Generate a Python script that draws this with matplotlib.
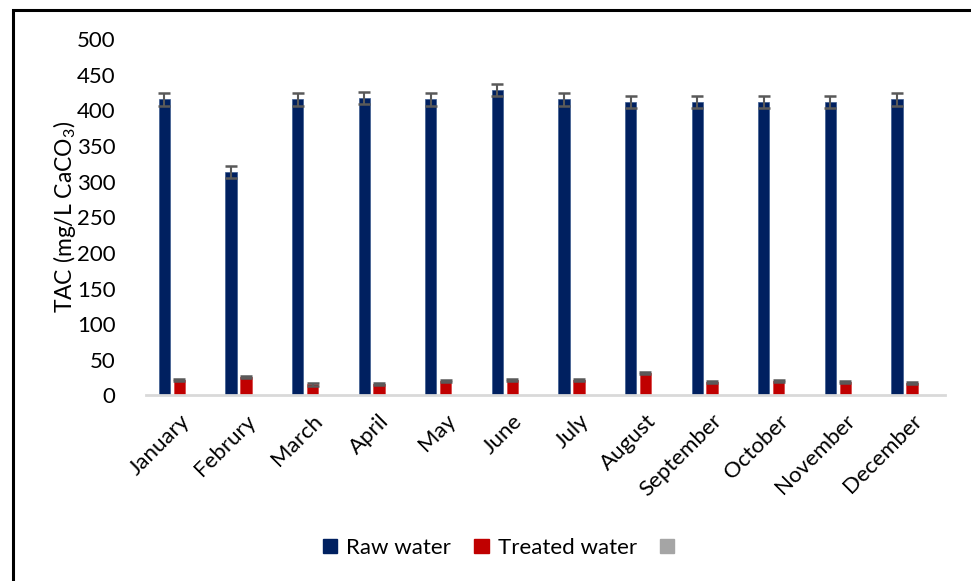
import matplotlib
matplotlib.use("Agg")
import matplotlib.pyplot as plt
import numpy as np
from matplotlib.patches import Patch, Rectangle

plt.rcParams['font.family'] = ['Lato', 'DejaVu Sans']
plt.rcParams['mathtext.fontset'] = 'custom'
plt.rcParams['mathtext.rm'] = 'Lato'
plt.rcParams['mathtext.it'] = 'Lato:italic'

months = ["January", "Februry", "March", "April", "May", "June", "July",
          "August", "September", "October", "November", "December"]
raw_water = [415, 313, 415, 417, 415, 428, 415, 411, 411, 412, 412, 415]
raw_err = [8.5, 8.5, 8.5, 8.5, 8.5, 8.5, 8.5, 8.5, 8.5, 8.5, 8.5, 8.5]
treated_water = [21.5, 26, 15.5, 16, 20, 21.5, 21.5, 31, 19, 20, 19, 17.5]
treated_err = [1.5, 1.5, 1.5, 1.5, 1.5, 1.5, 1.5, 1.5, 1.5, 1.5, 1.5, 1.5]
yticks = [0, 50, 100, 150, 200, 250, 300, 350, 400, 450, 500]

fig = plt.figure(figsize=(9.71, 5.81), dpi=100)
ax = fig.add_axes([0.1504, 0.3193, 0.823, 0.6138])

x = np.arange(len(months))
w = 0.169
off = 0.224
errkw = dict(ecolor='#595959', elinewidth=1.5, capthick=1.8, capsize=4.1)
ax.bar(x - off, raw_water, w, color='#002060', edgecolor='#3b5a8f', linewidth=0.5,
       yerr=raw_err, error_kw=errkw, zorder=2)
ax.bar(x, treated_water, w, color='#C00000', edgecolor='#d84040', linewidth=0.5,
       yerr=treated_err, error_kw=errkw, zorder=2)

ax.set_xlim(-0.5, len(months) - 0.5)
ax.set_ylim(0, 500)
ax.set_yticks(yticks)
ax.set_yticklabels([str(v) for v in yticks], fontsize=16)
ax.set_xticks(x)
ax.set_xticklabels(months, rotation=45, ha='right', rotation_mode='anchor', fontsize=16)
ax.tick_params(axis='both', length=0)
ax.tick_params(axis='x', pad=11)
ax.tick_params(axis='y', pad=22)
for s in ['top', 'right', 'left']:
    ax.spines[s].set_visible(False)
ax.spines['bottom'].set_color('#D9D9D9')
ax.spines['bottom'].set_linewidth(2)
ax.set_ylabel('TAC (mg/L CaCO$_3$)', fontsize=16.5)
ax.yaxis.set_label_coords(-0.085, 0.5)

handles = [Patch(color='#002060'), Patch(color='#C00000'), Patch(color='#A5A5A5')]
labels = ['Raw water', 'Treated water', '']
fig.legend(handles, labels, loc='center', bbox_to_anchor=(0.518, 0.057), ncol=3,
           frameon=False, fontsize=16, handlelength=0.65, handleheight=0.65,
           handletextpad=0.4, columnspacing=1.05)

fig.patches.append(Rectangle((13 / 971, -0.1), 1.2, 1 - 10 / 581 + 0.1,
                             transform=fig.transFigure, fill=False,
                             edgecolor='black', linewidth=2.2))

fig.savefig('out.png', dpi=100)
